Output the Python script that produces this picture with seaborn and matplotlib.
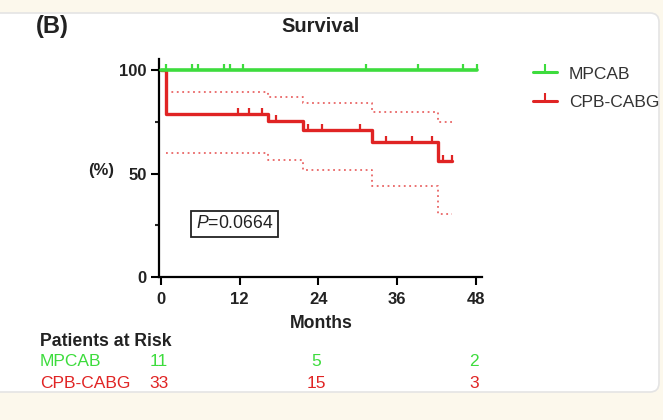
import numpy as np
import matplotlib
matplotlib.use("Agg")
import matplotlib.pyplot as plt
import seaborn as sns
from matplotlib.lines import Line2D
from matplotlib.patches import FancyBboxPatch
from matplotlib.transforms import IdentityTransform, blended_transform_factory
from matplotlib.ticker import FixedLocator

# Values

# MPCAB: no events, survival stays at 100 %
mpcab_t = [0, 48.2]
mpcab_s = [100, 100]
mpcab_cens = [0.8, 4.7, 5.6, 9.6, 10.5, 12.6, 31.3, 39.2, 46.0, 48.2]

# CPB-CABG step curve
cpb_t = [0, 0.8, 16.4, 21.6, 32.2, 42.3, 44.4]
cpb_s = [100, 78.8, 75.4, 71.0, 65.2, 56.0, 56.0]
cpb_cens = [11.7, 13.5, 15.5, 17.6, 22.5, 24.5, 30.4, 34.3, 38.3, 41.3, 43.0, 44.4]

# 95% CI of CPB-CABG (dotted)
ci_t = [0.8, 16.4, 21.6, 32.2, 42.3, 44.4]
ci_hi = [89.3, 86.9, 84.0, 80.0, 75.2, 75.2]
ci_lo = [60.2, 56.8, 51.7, 44.2, 30.6, 30.6]

# patients at risk table
risk_t = [0, 24, 48]
risk_mpcab = [11, 5, 2]
risk_cpb = [33, 15, 3]

p_text = "0.0664"

green = "#3ddc3d"
red = "#e02424"
dark = "#222222"


def surv_at(t_steps, s_steps, t):
    idx = np.searchsorted(t_steps, t, side="right") - 1
    return np.asarray(s_steps)[idx]


sns.set_theme(style="ticks")
plt.rcParams["font.family"] = ["Liberation Sans", "DejaVu Sans"]
plt.rcParams["mathtext.fontset"] = "custom"
plt.rcParams["mathtext.it"] = "Liberation Sans:italic"
plt.rcParams["mathtext.rm"] = "Liberation Sans"

fig = plt.figure(figsize=(6.63, 4.2), dpi=100)
fig.patch.set_facecolor("#fcf8ec")
card = FancyBboxPatch((-20, 28), 679, 379, boxstyle="round,pad=0,rounding_size=9",
                      transform=IdentityTransform(), fc="white", ec="#e4e4e4", lw=1.2, zorder=-5)
fig.add_artist(card)

ax = fig.add_axes([0.2395, 0.3405, 0.4880, 0.5190])
ax.set_facecolor("none")

# confidence limits
for ci in (ci_hi, ci_lo):
    sns.lineplot(x=ci_t, y=ci, drawstyle="steps-post", estimator=None, sort=False,
                 color=red, alpha=0.7, lw=1.3, linestyle=(0, (1, 2.0)), ax=ax)

# survival curves
sns.lineplot(x=cpb_t, y=cpb_s, drawstyle="steps-post", estimator=None, sort=False,
             color=red, lw=2.4, ax=ax)
sns.lineplot(x=mpcab_t, y=mpcab_s, drawstyle="steps-post", estimator=None, sort=False,
             color=green, lw=2.6, ax=ax, zorder=4)

# censor marks
sns.scatterplot(x=cpb_cens, y=surv_at(cpb_t, cpb_s, cpb_cens), marker=2, s=20,
                linewidth=1.6, color=red, ax=ax, zorder=5)
sns.scatterplot(x=mpcab_cens, y=surv_at(mpcab_t, mpcab_s, mpcab_cens), marker=2, s=20,
                linewidth=1.6, color=green, ax=ax, zorder=6)

ax.set_xlim(-0.3, 49.0)
ax.set_ylim(0, 105.5)
ax.set_xticks([0, 12, 24, 36, 48])
ax.set_yticks([0, 50, 100])
ax.yaxis.set_minor_locator(FixedLocator([25, 75]))
ax.tick_params(axis="both", which="major", length=5.5, width=1.5, labelsize=12, pad=3, colors="black")
ax.tick_params(axis="x", which="major", pad=5)
ax.tick_params(axis="y", which="minor", length=3, width=1.5)
for lab in ax.get_xticklabels() + ax.get_yticklabels():
    lab.set_fontweight("bold")
    lab.set_color(dark)
sns.despine(ax=ax)
for sp in ["left", "bottom"]:
    ax.spines[sp].set_linewidth(1.6)
    ax.spines[sp].set_color("black")
ax.set_xlabel("")
ax.set_ylabel("")

# P value box
ax.text(11.3, 25.7, r"$\mathit{P}$=" + p_text, fontsize=12.7, ha="center", va="center", color=dark,
        bbox=dict(boxstyle="square,pad=0.27", fc="white", ec=dark, lw=1.3))

# titles and axis labels
fig.text(52 / 663, 1 - 27 / 420, "(B)", fontsize=17, fontweight="bold", ha="center", va="center", color=dark)
fig.text(321 / 663, 1 - 26 / 420, "Survival", fontsize=14.5, fontweight="bold", ha="center", va="center", color=dark)
fig.text(101 / 663, 1 - 170 / 420, "(%)", fontsize=12, fontweight="bold", ha="center", va="center", color=dark)
fig.text(321 / 663, 1 - 323 / 420, "Months", fontsize=12.7, fontweight="bold", ha="center", va="center", color=dark)

# legend
handles = [Line2D([0], [0], color=green, lw=2.2, marker=2, markersize=6, markeredgewidth=1.5),
           Line2D([0], [0], color=red, lw=2.2, marker=2, markersize=6, markeredgewidth=1.5)]
fig.legend(handles, ["MPCAB", "CPB-CABG"], loc="upper left", bbox_to_anchor=(523 / 663, 1 - 56 / 420),
           frameon=False, fontsize=12.5, handlelength=1.35, handletextpad=0.7, labelspacing=0.75,
           labelcolor="#333333", numpoints=1, borderaxespad=0.2)

# patients at risk table
tr = blended_transform_factory(ax.transData, fig.transFigure)
fig.text(40 / 663, 1 - 342 / 420, "Patients at Risk", fontsize=12.7, fontweight="bold", ha="left", va="center", color=dark)
fig.text(40 / 663, 1 - 362 / 420, "MPCAB", fontsize=12.5, ha="left", va="center", color=green)
fig.text(40 / 663, 1 - 383 / 420, "CPB-CABG", fontsize=12.5, ha="left", va="center", color=red)
for t, a, b in zip(risk_t, risk_mpcab, risk_cpb):
    ax.text(t - 0.3, 1 - 362 / 420, str(a), transform=tr, fontsize=12.5, ha="center", va="center", color=green)
    ax.text(t - 0.3, 1 - 383 / 420, str(b), transform=tr, fontsize=12.5, ha="center", va="center", color=red)

fig.savefig("out.png", dpi=100, facecolor=fig.get_facecolor())
